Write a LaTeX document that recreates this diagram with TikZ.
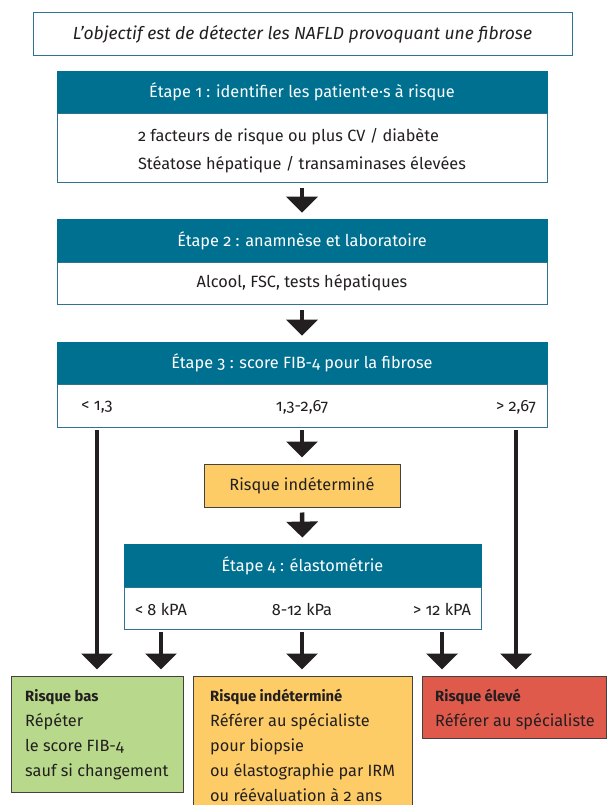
\documentclass[tikz,border=0pt]{standalone}
\usepackage{fontspec}
\setmainfont{Fira Sans}[Numbers=OldStyle]
\usetikzlibrary{arrows.meta}
\definecolor{hdrteal}{HTML}{007091}
\definecolor{bordteal}{HTML}{2F7390}
\definecolor{inkdark}{HTML}{231F20}
\definecolor{midorange}{HTML}{FDCC66}
\definecolor{lowgreen}{HTML}{B8D98C}
\definecolor{highred}{HTML}{E05A4C}
\newcommand{\bt}[1]{{\fontsize{14.8}{25}\selectfont\bfseries #1}}
\begin{document}
\begin{tikzpicture}[x=1pt,y=-1pt,
  every node/.style={text=inkdark, font=\fontsize{16.3}{25}\selectfont},
  goalbox/.style={draw=bordteal, line width=1pt, fill=white, inner sep=0pt},
  hdr/.style={draw=hdrteal, fill=hdrteal, inner sep=0pt, text=white, line width=0.8pt},
  bodybox/.style={draw=bordteal, fill=white, inner sep=0pt, line width=0.8pt},
  plain/.style={inner sep=0pt},
  outbox/.style={draw=inkdark!85, line width=1pt, inner sep=0pt},
  outtxt/.style={inner sep=0pt, anchor=north west, align=left},
  arr/.style={line width=4.5pt, draw=inkdark, -{Triangle[width=31pt,length=16pt]}, shorten >=6pt}
]
\clip (0,0) rectangle (608,805);
\useasboundingbox (0,0) rectangle (608,805);

% goal
\node[goalbox, minimum width=539pt, minimum height=43pt, font=\fontsize{17.5}{25}\selectfont\itshape] (goal) at (302.5,34.5)
  {L’objectif est de détecter les NAFLD provoquant une fibrose};

% step 1
\node[hdr, minimum width=490pt, minimum height=42pt] (s1h) at (302,92)
  {Étape 1 : identifier les patient·e·s à risque};
\node[bodybox, minimum width=490pt, minimum height=69pt] (s1b) at (302,147.5) {};
\node[plain, align=left, font=\fontsize{16.3}{28}\selectfont] (s1t) at (302,151)
  {2 facteurs de risque ou plus CV / diabète\\Stéatose hépatique / transaminases élevées};

% step 2
\node[hdr, minimum width=490pt, minimum height=43pt] (s2h) at (302,240.5)
  {Étape 2 : anamnèse et laboratoire};
\node[bodybox, minimum width=490pt, minimum height=42pt] (s2b) at (302,283)
  {Alcool, FSC, tests hépatiques};

% step 3
\node[hdr, minimum width=490pt, minimum height=42pt] (s3h) at (302,363)
  {Étape 3 : score FIB-4 pour la fibrose};
\node[bodybox, minimum width=490pt, minimum height=43pt] (s3b) at (302,405.5) {};
\node[plain] (s3l) at (97,407) {< 1,3};
\node[plain] (s3m) at (302,407) {1,3-2,67};
\node[plain] (s3r) at (516,407) {> 2,67};

% indeterminate
\node[outbox, fill=midorange, minimum width=196pt, minimum height=43pt] (ri) at (302,485.5)
  {Risque indéterminé};

% step 4
\node[hdr, minimum width=357pt, minimum height=43pt] (s4h) at (302.5,565.5)
  {Étape 4 : élastométrie};
\node[bodybox, minimum width=357pt, minimum height=42pt] (s4b) at (302.5,608) {};
\node[plain] (s4l) at (161,609) {< 8 kPA};
\node[plain] (s4m) at (302,609) {8-12 kPa};
\node[plain] (s4r) at (442,609) {> 12 kPA};

% outcome boxes
\node[outbox, fill=lowgreen, minimum width=172pt, minimum height=116pt] (low) at (97,734) {};
\node[outtxt] (lowt) at (25,689)
  {\bt{Risque bas}\\Répéter\\le score FIB-4\\sauf si changement};
\node[outbox, fill=midorange, minimum width=219pt, minimum height=150pt] (mid) at (302.5,751) {};
\node[outtxt] (midt) at (210,689)
  {\bt{Risque indéterminé}\\Référer au spécialiste\\pour biopsie\\ou élastographie par IRM\\ou réévaluation à 2 ans};
\node[outbox, fill=highred, minimum width=184pt, minimum height=62pt] (high) at (514,707) {};
\node[outtxt] (hight) at (435,689)
  {\bt{Risque élevé}\\Référer au spécialiste};

% arrows
\draw[arr, shorten <=6pt] (s1b.south) -- (s2h.north);
\draw[arr, shorten <=6pt] (s2b.south) -- (s3h.north);
\draw[arr, shorten <=3pt] (s3b.south) -- (ri.north);
\draw[arr, shorten <=5pt] (ri.south) -- (s4h.north);
\draw[arr, shorten <=3pt] (s3b.south -| s3l) -- (low.north -| s3l);
\draw[arr, shorten <=3pt] (s3b.south -| s3r) -- (high.north -| s3r);
\draw[arr, shorten <=3pt] (s4b.south -| s4l) -- (low.north -| s4l);
\draw[arr, shorten <=3pt] (s4b.south -| s4m) -- (mid.north -| s4m);
\draw[arr, shorten <=3pt] (s4b.south -| s4r) -- (high.north -| s4r);
\end{tikzpicture}
\end{document}
